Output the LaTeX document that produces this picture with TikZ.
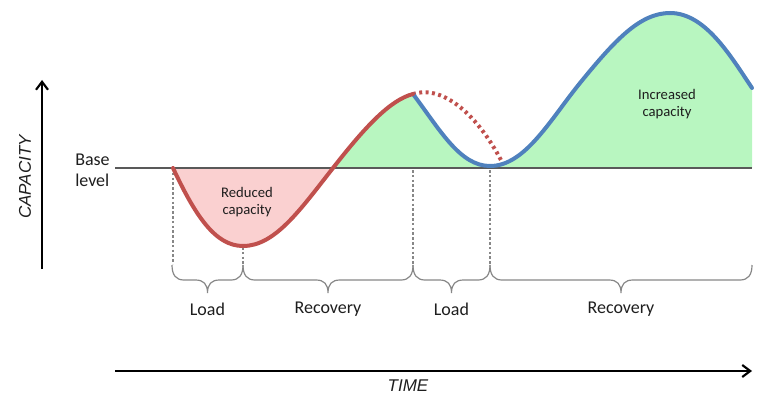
\documentclass[tikz,border=0pt]{standalone}
\usepackage{fontspec}
\setmainfont{Carlito}
\newfontfamily\arialfont{Liberation Sans}
\usetikzlibrary{arrows.meta}
\definecolor{cred}{RGB}{192,80,77}
\definecolor{cblue}{RGB}{79,129,189}
\definecolor{cgreen}{RGB}{184,246,192}
\definecolor{cpink}{RGB}{250,208,208}
\definecolor{cgray}{RGB}{135,135,135}
\definecolor{ctext}{RGB}{30,30,30}
\newcommand\capbrace[2]{%
  \pgfmathsetmacro\bm{(#1+#2)/2}%
  \draw[bracestyle] (#1,265) .. controls (#1,275) and (#1+4,280) .. (#1+12,280)
    -- (\bm-12,280) .. controls (\bm-4,280) and (\bm,284) .. (\bm,293)
    .. controls (\bm,284) and (\bm+4,280) .. (\bm+12,280)
    -- (#2-12,280) .. controls (#2-4,280) and (#2,275) .. (#2,265);}
\begin{document}
\begin{tikzpicture}[x=0.75pt,y=-0.75pt,
  axisarrow/.style={line width=1.9pt, black, -{Straight Barb[length=6pt,width=9pt,line width=1.6pt]}},
  axislabel/.style={font=\arialfont\itshape\fontsize{12.75}{15}\selectfont, text=ctext},
  biglabel/.style={font=\fontsize{13.5}{16}\selectfont, text=ctext},
  smalllabel/.style={font=\fontsize{11}{13}\selectfont, text=ctext, align=center, inner sep=0pt},
  bracestyle/.style={cgray, line width=0.9pt},
  guide/.style={cgray, line width=0.8pt, dash pattern=on 2pt off 1.6pt},
  redcurve/.style={cred, line width=3pt},
  bluecurve/.style={cblue, line width=3pt},
  dottedred/.style={cred, line width=3pt, dash pattern=on 2.2pt off 2.6pt}]
\useasboundingbox (0,0) rectangle (770,403);

% fills
\fill[cpink] (173,168) .. controls (195,215) and (215,246) .. (243,246)
  .. controls (275,246) and (300,210) .. (333,168) -- cycle;
\fill[cgreen] (333,168) .. controls (365,127) and (390,100) .. (413,94)
  .. controls (440,130) and (460,166) .. (490,166)
  .. controls (525,166) and (550,120) .. (580,83)
  .. controls (615,40) and (640,13) .. (670,13)
  .. controls (705,13) and (730,55) .. (752,88) -- (752,168) -- cycle;

% base line
\coordinate (bl0) at (115,168);
\coordinate (bl1) at (752,168);
\draw[black!65, line width=0.8pt] (bl0) -- (bl1);

% guides
\coordinate (g1t) at (173,168); \coordinate (g1b) at (173,264);
\coordinate (g2t) at (243,247); \coordinate (g2b) at (243,264);
\coordinate (g3t) at (413,170); \coordinate (g3b) at (413,264);
\coordinate (g4t) at (490,170); \coordinate (g4b) at (490,264);
\draw[guide] (g1t) -- (g1b);
\draw[guide] (g2t) -- (g2b);
\draw[guide] (g3t) -- (g3b);
\draw[guide] (g4t) -- (g4b);

% curves
\coordinate (p0) at (173,168);
\coordinate (pmin) at (243,246);
\coordinate (pcross) at (333,168);
\coordinate (ppeak) at (413,94);
\coordinate (pmin2) at (490,166);
\coordinate (pmid) at (580,83);
\coordinate (ptop) at (670,13);
\coordinate (pend) at (752,88);
\coordinate (dend) at (502,162);
\draw[dottedred] (ppeak) .. controls (440,85) and (475,110) .. (dend);
\draw[bluecurve, line cap=round] (ppeak) .. controls (440,130) and (460,166) .. (pmin2)
  .. controls (525,166) and (550,120) .. (pmid)
  .. controls (615,40) and (640,13) .. (ptop)
  .. controls (705,13) and (730,55) .. (pend);
\draw[redcurve, line cap=round] (p0) .. controls (195,215) and (215,246) .. (pmin)
  .. controls (275,246) and (300,210) .. (pcross)
  .. controls (365,127) and (390,100) .. (ppeak);

% braces
\capbrace{172}{243}
\capbrace{243}{413}
\capbrace{413}{490}
\capbrace{490}{752}

% labels
\node[biglabel] (load1) at (207.5,309) {Load};
\node[biglabel] (rec1) at (328,309) {Recovery};
\node[biglabel] (load2) at (451.5,309) {Load};
\node[biglabel] (rec2) at (621,309) {Recovery};
\node[biglabel, anchor=west, align=left, inner sep=0pt, font=\fontsize{13.5}{16}\selectfont] (base) at (75,170) {Base\\level};
\node[smalllabel] (reduced) at (247,202) {Reduced\\capacity};
\node[smalllabel] (increased) at (667,104) {Increased\\capacity};

% axes
\coordinate (ya0) at (42,269);
\coordinate (ya1) at (42,80);
\coordinate (xa0) at (115,371);
\coordinate (xa1) at (752,371);
\draw[axisarrow] (ya0) -- (ya1);
\draw[axisarrow] (xa0) -- (xa1);
\node[axislabel, rotate=90] (cap) at (25,177) {CAPACITY};
\node[axislabel] (time) at (408,386) {TIME};
\end{tikzpicture}
\end{document}
